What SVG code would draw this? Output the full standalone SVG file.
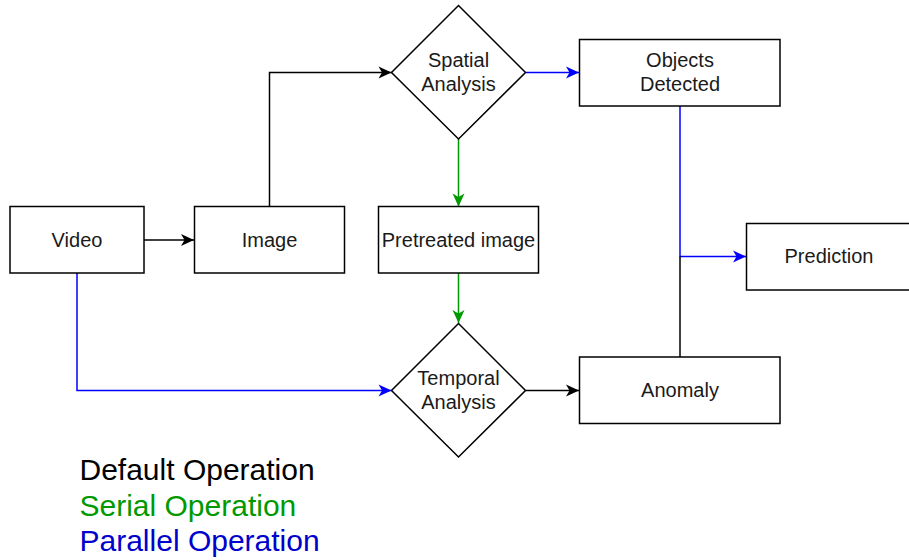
<svg xmlns="http://www.w3.org/2000/svg" width="909" height="560" viewBox="0 0 909 560">
<style>
.box{fill:#fff;stroke:#000;stroke-width:1.5}
.t{font-family:"Liberation Sans",Arial,sans-serif;font-size:20px;fill:#1a1a1a;text-anchor:middle}
.c{fill:none;stroke-width:1.5}
.k{stroke:#000}
.g{stroke:#009900}
.b{stroke:#0000FF}
.lg{font-family:"Liberation Sans",Arial,sans-serif;font-size:30px}
</style>
<defs>
<marker id="ak" markerUnits="userSpaceOnUse" markerWidth="16" markerHeight="14" viewBox="-14 -7 16 14" refX="0" refY="0" orient="auto"><path d="M0,0 L-13,-6 L-9.5,0 L-13,6 Z" fill="#000"/></marker>
<marker id="ag" markerUnits="userSpaceOnUse" markerWidth="16" markerHeight="14" viewBox="-14 -7 16 14" refX="0" refY="0" orient="auto"><path d="M0,0 L-13,-6 L-9.5,0 L-13,6 Z" fill="#009900"/></marker>
<marker id="ab" markerUnits="userSpaceOnUse" markerWidth="16" markerHeight="14" viewBox="-14 -7 16 14" refX="0" refY="0" orient="auto"><path d="M0,0 L-13,-6 L-9.5,0 L-13,6 Z" fill="#0000FF"/></marker>
</defs>
<rect width="909" height="560" fill="#fff"/>
<g id="connectors">
<path class="c k" d="M144,240 H194" marker-end="url(#ak)"/>
<path class="c k" d="M269.5,206.5 V72.5 H391.5" marker-end="url(#ak)"/>
<path class="c b" d="M525.5,72.5 H579" marker-end="url(#ab)"/>
<path class="c g" d="M458.5,139 V206.5" marker-end="url(#ag)"/>
<path class="c g" d="M458.5,273 V323" marker-end="url(#ag)"/>
<path class="c b" d="M77,273 V390.5 H391.5" marker-end="url(#ab)"/>
<path class="c k" d="M525.5,390.5 H579" marker-end="url(#ak)"/>
<path class="c b" d="M680,106 V256.5 H746" marker-end="url(#ab)"/>
<path class="c k" d="M680,357 V256.5"/>
</g>
<g id="video"><rect class="box" x="10" y="206.5" width="134" height="66.5"/><text class="t" x="77" y="247">Video</text></g>
<g id="image"><rect class="box" x="194.5" y="206.5" width="150" height="66.5"/><text class="t" x="269.5" y="247">Image</text></g>
<g id="pretreated"><rect class="box" x="378.5" y="206.5" width="160" height="66.5"/><text class="t" x="458.5" y="247">Pretreated image</text></g>
<g id="spatial"><path class="box" d="M458.5,5.5 L525.5,72.5 L458.5,139 L391.5,72.5 Z"/><text class="t" x="458.5" y="67">Spatial</text><text class="t" x="458.5" y="91">Analysis</text></g>
<g id="objects"><rect class="box" x="579.5" y="39.5" width="200.5" height="66.5"/><text class="t" x="680" y="67">Objects</text><text class="t" x="680" y="91">Detected</text></g>
<g id="prediction"><rect class="box" x="746.5" y="223.5" width="166" height="66.5"/><text class="t" x="829" y="263">Prediction</text></g>
<g id="temporal"><path class="box" d="M458.5,323.5 L525.5,390.5 L458.5,457 L391.5,390.5 Z"/><text class="t" x="458.5" y="385">Temporal</text><text class="t" x="458.5" y="409">Analysis</text></g>
<g id="anomaly"><rect class="box" x="579.5" y="357" width="200.5" height="66.5"/><text class="t" x="680" y="397">Anomaly</text></g>
<g id="legend">
<text class="lg" x="79.5" y="480" fill="#000">Default Operation</text>
<text class="lg" x="79.5" y="515.5" fill="#009900">Serial Operation</text>
<text class="lg" x="79.5" y="551" fill="#0000CC">Parallel Operation</text>
</g>
</svg>
